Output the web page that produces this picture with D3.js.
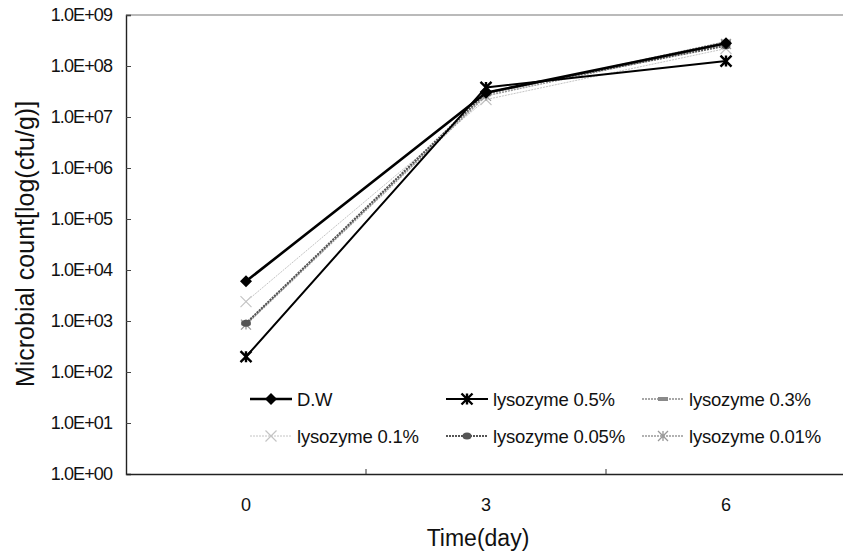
<!DOCTYPE html>
<meta charset="utf-8">
<script src="https://d3js.org/d3.v7.min.js"></script>
<style>
  body { margin: 0; background: #fff; }
  text { font-family: "Liberation Sans", Arial, sans-serif; fill: #111; }
</style>
<div id="chart"></div>
<script>
// values (cfu/g)
var days = ["0", "3", "6"];
var seriesNames = ["D.W", "lysozyme 0.5%", "lysozyme 0.3%", "lysozyme 0.1%", "lysozyme 0.05%", "lysozyme 0.01%"];
var dw      = [6000, 3.0e7, 2.8e8];
var lys05   = [200, 3.8e7, 1.25e8];
var lys03   = [900, 2.8e7, 3.0e8];
var lys01   = [2400, 2.2e7, 2.2e8];
var lys005  = [900, 3.0e7, 2.5e8];
var lys001  = [850, 2.6e7, 2.7e8];
var yTicks = [1, 1e1, 1e2, 1e3, 1e4, 1e5, 1e6, 1e7, 1e8, 1e9];

var allValues = [dw, lys05, lys03, lys01, lys005, lys001];

// look of each series
var styles = [
  {color: "#000", width: 2.6, dash: null,  marker: "diamond"},
  {color: "#000", width: 2,   dash: null,  marker: "asterisk"},
  {color: "#8a8a8a", width: 1.4, dash: "2,1", marker: "dash"},
  {color: "#c4c4c4", width: 1, dash: "2,1", marker: "cross"},
  {color: "#555", width: 2,   dash: "2,1", marker: "dot"},
  {color: "#999", width: 1.4, dash: "2,1", marker: "star"}
];

var W = 843, H = 551;
var plot = {left: 126, right: 846, top: 15, bottom: 474};

var svg = d3.select("#chart").append("svg")
  .attr("width", W).attr("height", H);

var x = d3.scaleBand().domain(days).range([plot.left, plot.right]);
var y = d3.scaleLog().domain([1, 1e9]).range([plot.bottom, plot.top]);

function cx(d) { return x(d) + x.bandwidth() / 2; }

// frame: top / right border
svg.append("line")
  .attr("x1", plot.left).attr("x2", plot.right)
  .attr("y1", plot.top).attr("y2", plot.top)
  .attr("stroke", "#777").attr("stroke-width", 1.2);
svg.append("line")
  .attr("x1", plot.right).attr("x2", plot.right)
  .attr("y1", plot.top).attr("y2", plot.bottom)
  .attr("stroke", "#777").attr("stroke-width", 1.2);

// y axis
var yAxis = svg.append("g")
  .attr("transform", "translate(" + plot.left + ",0)")
  .call(d3.axisLeft(y)
    .tickValues(yTicks)
    .tickSize(-5)
    .tickPadding(14)
    .tickFormat(function(d) {
      var e = Math.round(Math.log10(d));
      return "1.0E+" + (e < 10 ? "0" + e : e);
    }));
yAxis.select(".domain").attr("stroke", "#222").attr("stroke-width", 1.4);
yAxis.selectAll("line").attr("stroke", "#444");
yAxis.selectAll("text")
  .style("font-size", "18px")
  .style("font-family", "Liberation Sans, Arial, sans-serif")
  .attr("fill", "#111")
  .attr("letter-spacing", "-0.9");

// x axis
var xAxis = svg.append("g")
  .attr("transform", "translate(0," + plot.bottom + ")")
  .call(d3.axisBottom(x).tickSize(0).tickPadding(24));
xAxis.select(".domain").attr("stroke", "#222").attr("stroke-width", 1.4);
xAxis.selectAll("text")
  .style("font-size", "18px")
  .style("font-family", "Liberation Sans, Arial, sans-serif")
  .attr("fill", "#111");

// category boundary ticks (pointing inward)
xAxis.selectAll(".sep")
  .data(days.slice(0, -1))
  .enter().append("line")
  .attr("class", "sep")
  .attr("x1", function(d) { return x(d) + x.bandwidth(); })
  .attr("x2", function(d) { return x(d) + x.bandwidth(); })
  .attr("y1", 0).attr("y2", -5)
  .attr("stroke", "#333");

// axis titles
svg.append("text")
  .attr("transform", "translate(34,244) rotate(-90)")
  .attr("text-anchor", "middle")
  .style("font-size", "25px")
  .text("Microbial count[log(cfu/g)]");

svg.append("text")
  .attr("x", 478).attr("y", 546)
  .attr("text-anchor", "middle")
  .style("font-size", "23px")
  .text("Time(day)");

// marker drawing
function drawMarker(g, type, px, py, st) {
  if (type === "diamond") {
    var s = 6;
    g.append("path")
      .attr("d", "M0," + (-s) + "L" + s + ",0L0," + s + "L" + (-s) + ",0Z")
      .attr("transform", "translate(" + px + "," + py + ")")
      .attr("fill", st.color);
  } else if (type === "asterisk" || type === "star") {
    var r = type === "asterisk" ? 5.5 : 5;
    var p = "M" + (-r) + "," + (-r) + "L" + r + "," + r +
            "M" + (-r) + "," + r + "L" + r + "," + (-r) +
            "M0," + (-r) + "L0," + r;
    g.append("path")
      .attr("d", p)
      .attr("transform", "translate(" + px + "," + py + ")")
      .attr("stroke", st.color)
      .attr("stroke-width", type === "asterisk" ? 2.4 : 1.3)
      .attr("fill", "none");
  } else if (type === "cross") {
    var r2 = 5.5;
    g.append("path")
      .attr("d", "M" + (-r2) + "," + (-r2) + "L" + r2 + "," + r2 + "M" + (-r2) + "," + r2 + "L" + r2 + "," + (-r2))
      .attr("transform", "translate(" + px + "," + py + ")")
      .attr("stroke", st.color).attr("stroke-width", 1.2).attr("fill", "none");
  } else if (type === "dash") {
    g.append("rect")
      .attr("x", px - 5).attr("y", py - 2).attr("width", 10).attr("height", 4)
      .attr("fill", st.color);
  } else if (type === "dot") {
    g.append("ellipse")
      .attr("cx", px).attr("cy", py).attr("rx", 4.5).attr("ry", 3.5)
      .attr("fill", st.color);
  }
}

// series lines, drawn light first so the dark ones sit on top
var order = [3, 5, 2, 4, 1, 0];
var line = d3.line()
  .x(function(d, i) { return cx(days[i]); })
  .y(function(d) { return y(d); });

var series = svg.append("g");
order.forEach(function(k) {
  var st = styles[k];
  var g = series.append("g");
  g.append("path")
    .datum(allValues[k])
    .attr("d", line)
    .attr("fill", "none")
    .attr("stroke", st.color)
    .attr("stroke-width", st.width)
    .attr("stroke-dasharray", st.dash);
  allValues[k].forEach(function(v, i) {
    drawMarker(g, st.marker, cx(days[i]), y(v), st);
  });
});

// legend: 3 columns x 2 rows
var legCols = [250, 446, 642];
var legRows = [399, 436];
var legend = svg.append("g");
seriesNames.forEach(function(name, k) {
  var st = styles[k];
  var lx = legCols[k % 3], ly = legRows[Math.floor(k / 3)];
  var g = legend.append("g");
  g.append("line")
    .attr("x1", lx).attr("x2", lx + 42)
    .attr("y1", ly).attr("y2", ly)
    .attr("stroke", st.color)
    .attr("stroke-width", st.width)
    .attr("stroke-dasharray", st.dash);
  drawMarker(g, st.marker, lx + 21, ly, st);
  g.append("text")
    .attr("x", lx + 47).attr("y", ly)
    .attr("dy", "0.36em")
    .style("font-size", "18.5px")
    .attr("letter-spacing", "-0.2")
    .text(name);
});
</script>
